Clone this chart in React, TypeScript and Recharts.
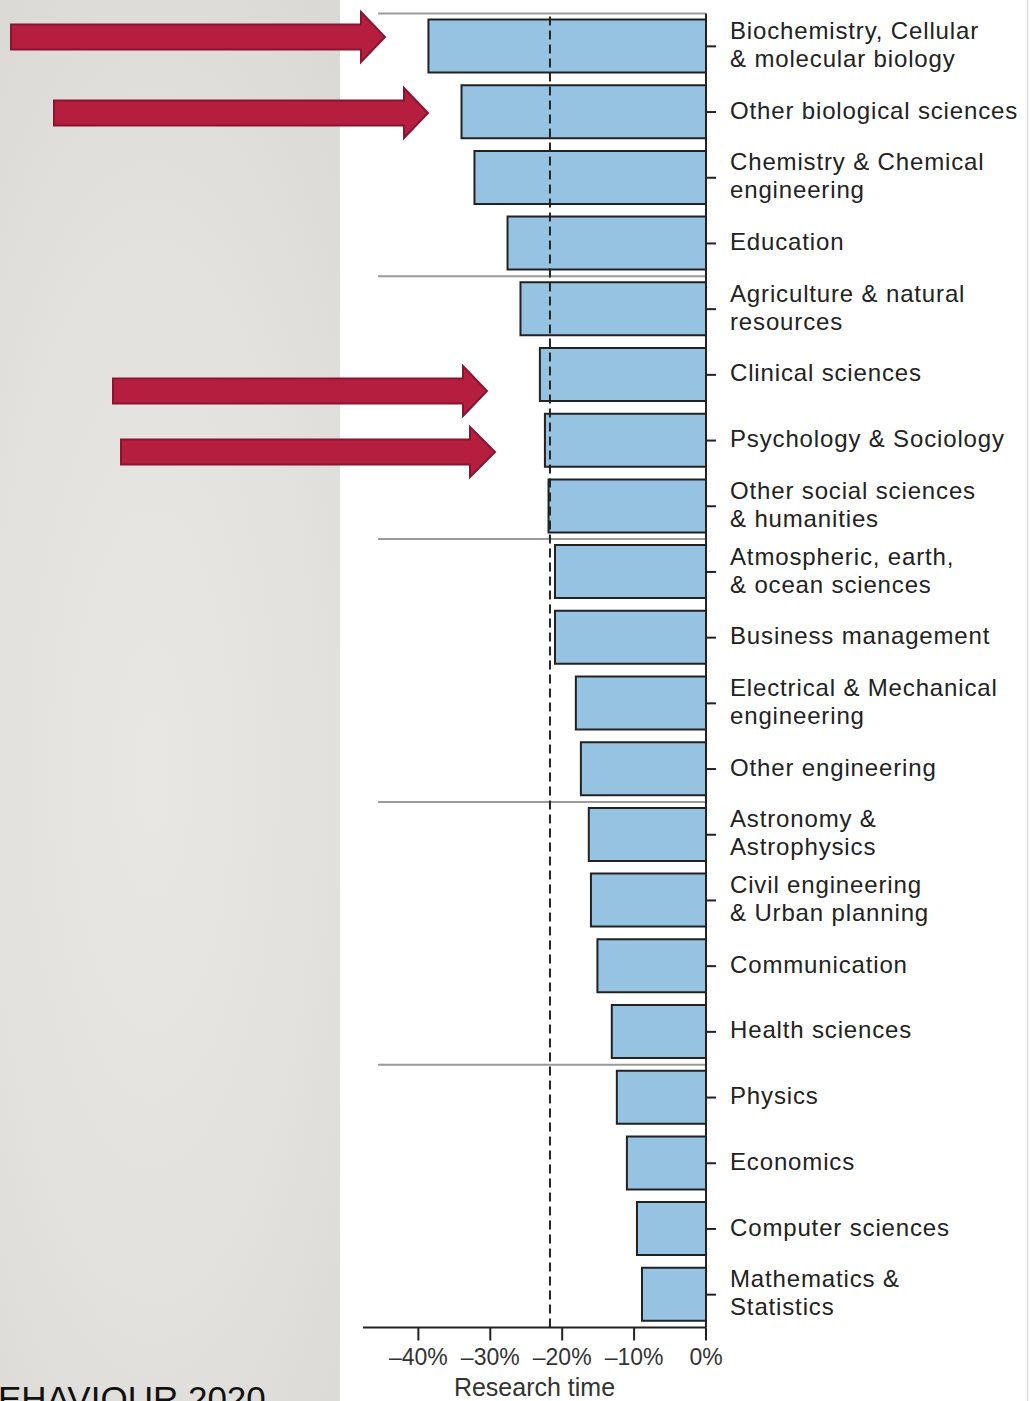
import React from "react";
import { BarChart, Bar, XAxis, YAxis, ReferenceLine } from "recharts";

const categories = [
  "Biochemistry, Cellular\n& molecular biology",
  "Other biological sciences",
  "Chemistry & Chemical\nengineering",
  "Education",
  "Agriculture & natural\nresources",
  "Clinical sciences",
  "Psychology & Sociology",
  "Other social sciences\n& humanities",
  "Atmospheric, earth,\n& ocean sciences",
  "Business management",
  "Electrical & Mechanical\nengineering",
  "Other engineering",
  "Astronomy &\nAstrophysics",
  "Civil engineering\n& Urban planning",
  "Communication",
  "Health sciences",
  "Physics",
  "Economics",
  "Computer sciences",
  "Mathematics &\nStatistics",
];

const researchTimeChange = [
  -38.6, -34.0, -32.2, -27.6, -25.8, -23.1, -22.4, -21.9, -21.0, -21.0,
  -18.1, -17.4, -16.3, -16.0, -15.1, -13.1, -12.4, -11.0, -9.6, -8.9,
];

const xTicks = [-40, -30, -20, -10, 0];
const xDomain = [-47.7, 0];
const averageChange = -21.7;
const groupStartIndices = [0, 4, 8, 12, 16];
const separatorStart = -45.6;
const axisTitle = "Research time";
const footerText = "EHAVIOUR 2020";

const data = categories.map((name, i) => ({ name, value: researchTimeChange[i] }));

const FONT = '"Liberation Sans", Arial, Helvetica, sans-serif';

const CategoryTick = (props: any) => {
  const { x, y, payload } = props;
  const lines = String(payload.value).split("\n");
  const lh = 28;
  const startY = y - 2 - ((lines.length - 1) * lh) / 2;
  return (
    <text
      x={x + 12}
      y={startY}
      fontFamily={FONT}
      fontSize={24}
      letterSpacing={0.85}
      fill="#222"
      textAnchor="start"
    >
      {lines.map((l, i) => (
        <tspan key={i} x={x + 12} y={startY + i * lh} dy="0.36em">
          {l}
        </tspan>
      ))}
    </text>
  );
};

const fmtTick = (v: number) => (v === 0 ? "0%" : "\u2013" + Math.abs(v) + "%");

const AxisTitle = (props: any) => {
  const vb = props.viewBox || {};
  return (
    <text
      x={vb.x + vb.width / 2}
      y={vb.y + 68}
      textAnchor="middle"
      fontFamily={FONT}
      fontSize={25}
      fill="#333"
    >
      {axisTitle}
    </text>
  );
};

const arrowPath = (x0: number, x1: number, tip: number, cy: number) => {
  const sh = 12.5;
  const hh = 25;
  return `M${x0},${cy - sh} L${x1},${cy - sh} L${x1},${cy - hh} L${tip},${cy} L${x1},${cy + hh} L${x1},${cy + sh} L${x0},${cy + sh} Z`;
};

export default function App() {
  return (
    <div style={{ position: "absolute", left: 0, top: 0, width: 1030, height: 1401, overflow: "hidden", background: "#fff" }}>
      <div
        style={{
          position: "absolute",
          left: 0,
          top: 0,
          width: 340,
          height: 1401,
          background: "radial-gradient(ellipse 90% 70% at 45% 55%, #e8e7e3 0%, #e2e1dd 55%, #dad8d4 100%)",
        }}
      />
      <div style={{ position: "absolute", left: 0, top: 0 }}>
        <BarChart
          width={1030}
          height={1401}
          data={data}
          layout="vertical"
          margin={{ top: 13.5, right: 24, left: 363, bottom: 13.5 }}
          barSize={53}
        >
          <XAxis
            type="number"
            domain={xDomain}
            ticks={xTicks}
            tickFormatter={fmtTick}
            allowDataOverflow
            height={60}
            axisLine={{ stroke: "#222", strokeWidth: 2 }}
            tickLine={{ stroke: "#222", strokeWidth: 2 }}
            tickSize={13}
            tickMargin={8}
            tick={{ fontFamily: FONT, fontSize: 23, fill: "#333" }}
            label={<AxisTitle />}
          />
          <YAxis
            type="category"
            dataKey="name"
            orientation="right"
            width={300}
            interval={0}
            axisLine={{ stroke: "#222", strokeWidth: 2 }}
            tickLine={{ stroke: "#222", strokeWidth: 2 }}
            tickSize={10}
            tick={<CategoryTick />}
          />
          {groupStartIndices.map((b) => (
            <ReferenceLine
              key={b}
              position="start"
              segment={[
                { x: separatorStart, y: categories[b] },
                { x: 0, y: categories[b] },
              ]}
              stroke="#9a9a9a"
              strokeWidth={2}
            />
          ))}
          <Bar dataKey="value" fill="#96c3e2" stroke="#222" strokeWidth={2} isAnimationActive={false} />
          <ReferenceLine x={averageChange} stroke="#222" strokeWidth={2} strokeDasharray="9 5" />
        </BarChart>
      </div>
      <svg width={1030} height={1401} style={{ position: "absolute", left: 0, top: 0, pointerEvents: "none" }}>
        <line x1={1027.5} y1={0} x2={1027.5} y2={1401} stroke="#dcdcdc" strokeWidth={1.5} />
        <g fill="#b51e3f" stroke="#8a1530" strokeWidth={2} strokeLinejoin="miter">
          <path d={arrowPath(11, 361, 385, 37)} />
          <path d={arrowPath(54, 404, 428, 113)} />
          <path d={arrowPath(113, 463, 487, 391)} />
          <path d={arrowPath(121, 470, 495, 452)} />
        </g>
        <text x={-2} y={1411} fontFamily={FONT} fontSize={35} fill="#111">
          {footerText}
        </text>
      </svg>
    </div>
  );
}
